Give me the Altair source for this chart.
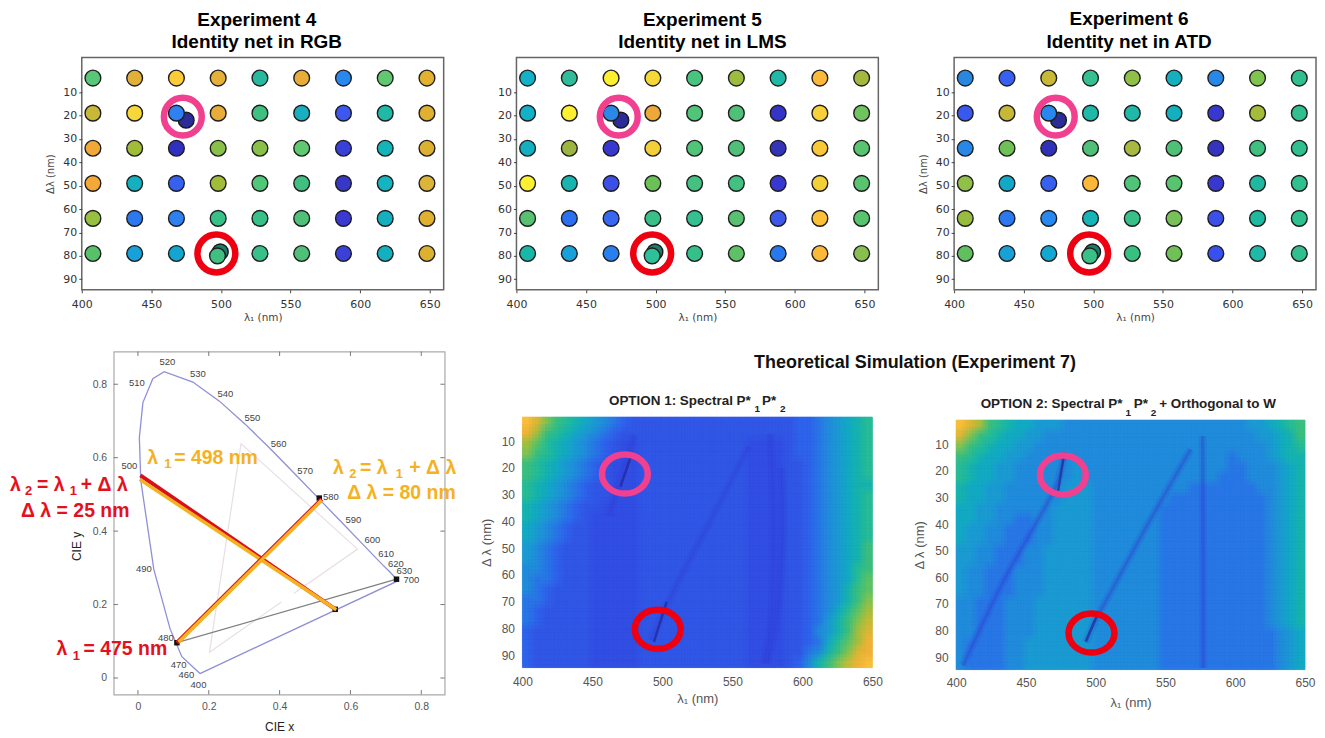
import altair as alt
import pandas as pd

SANS = "Liberation Sans"
DEJA = "DejaVu Sans"
NB = "\u00a0"

# ---------- Experiments 4-6 ----------
lam_cols = [408, 438, 468, 498, 528, 558, 588, 618, 648]
dl_rows = [4, 19, 34, 49, 64, 79]

exp4 = [
    ["#58c878", "#e0b038", "#fccc38", "#e4b038", "#28b8a0", "#e8ac38", "#2888f0", "#60c870", "#e4b030"],
    ["#c8b838", "#f8d838", "#2f80f0", "#e8ac38", "#40c080", "#18b0c0", "#3c58f0", "#20b8a8", "#e0b030"],
    ["#f0a838", "#a0bc38", "#3030c0", "#88c048", "#88c048", "#60c870", "#3840d8", "#14b4b8", "#dcb030"],
    ["#f4a838", "#14b0c0", "#3860f0", "#a0bc38", "#50c878", "#40c080", "#3838c8", "#14b4c0", "#dcb438"],
    ["#98c040", "#2c78f0", "#2c80f0", "#38c088", "#38c088", "#50c078", "#3a3ad0", "#14b0c0", "#e0b030"],
    ["#58c068", "#18a0d8", "#14a4d0", "#40c080", "#38c088", "#50c078", "#3a40d8", "#14b0c0", "#dcb030"],
]
exp5 = [
    ["#14b0c8", "#30bc98", "#fcf030", "#f4d838", "#48c480", "#9cbc40", "#20b8a8", "#fcb838", "#a4b840"],
    ["#14b0c8", "#fcf030", "#2a88e8", "#eca838", "#50c478", "#50c078", "#3434c8", "#f8d038", "#70c460"],
    ["#14b0c0", "#9cb440", "#3838d0", "#f4d038", "#50c478", "#50c078", "#3434b8", "#f8c838", "#58c470"],
    ["#fcf030", "#18b4b0", "#3c50e8", "#6cc058", "#44c080", "#44c080", "#3838d0", "#f4d038", "#58c470"],
    ["#58c070", "#2c70f0", "#3868f0", "#38c088", "#34c090", "#58c070", "#3c58e8", "#fcc038", "#58c470"],
    ["#18b8a8", "#18a0d8", "#2880f0", "#30c098", "#34c088", "#60c068", "#2878f0", "#fcb838", "#88c050"],
]
exp6 = [
    ["#2888e0", "#3860f0", "#c8b838", "#34c090", "#90c048", "#14b0c0", "#2888e8", "#80c450", "#30c090"],
    ["#3858f0", "#c8b838", "#2888f0", "#20b8a8", "#20b8a8", "#14b0c0", "#3838d0", "#a4bc38", "#30c090"],
    ["#2888e8", "#70c058", "#3030b8", "#50c078", "#a8b840", "#50c078", "#3434c0", "#40c080", "#30c090"],
    ["#90c048", "#14a8c8", "#3860f0", "#fcb838", "#50c478", "#58c470", "#3838d0", "#20b8a0", "#30c090"],
    ["#98bc40", "#2c78f0", "#2888f0", "#14b4b8", "#38c088", "#78c058", "#3c50e8", "#20b8a0", "#30c090"],
    ["#60c060", "#18a0d8", "#14a8d0", "#38c088", "#38c080", "#70c058", "#3850f0", "#20b8a8", "#30c090"],
]
under_lam = [475, 499.5]
under_dl = [22, 78.3]
under_col = ["#2c2c98", "#207a68"]
red_dot = (497.5, 80)

pink_col = "#f0408f"
red_col = "#ee0010"

xticks = [400, 450, 500, 550, 600, 650]
yticks = [10, 20, 30, 40, 50, 60, 70, 80, 90]


def exp_panel(grid, title, tdx, ytitle, pink, red, title_off=5):
    rows = []
    for r, dl in enumerate(dl_rows):
        for c, lam in enumerate(lam_cols):
            x, y = lam, dl
            if lam == 498 and dl == 79:
                x, y = red_dot
            rows.append({"x": x, "y": y, "c": grid[r][c]})
    df = pd.DataFrame(rows)
    xs = alt.Scale(domain=[400, 660], nice=False, zero=False)
    ys = alt.Scale(domain=[-4.8, 94.5], reverse=True, nice=False, zero=False)
    X = alt.X("x:Q", scale=xs, axis=alt.Axis(values=xticks, title="λ₁ (nm)", grid=False, labelFont=DEJA,
              labelFontSize=11, labelColor="#333", titleFont=DEJA, titleFontSize=10.5, titleFontWeight="normal",
              titleColor="#444", tickSize=3, tickColor="#444", domain=False, labelPadding=6, titlePadding=3,
              labelFlush=False))
    Y = alt.Y("y:Q", scale=ys, axis=alt.Axis(values=yticks, title=ytitle, grid=False, labelFont=DEJA,
              labelFontSize=11, labelColor="#333", titleFont=DEJA, titleFontSize=10, titleFontWeight="normal",
              titleColor="#444", tickSize=3, tickColor="#444", domain=False, labelPadding=2, titlePadding=7,
              labelFlush=False))
    under = alt.Chart(pd.DataFrame({"x": under_lam, "y": under_dl, "c": under_col})).mark_point(
        filled=True, shape="circle", size=250, stroke="#1a1a1a", strokeWidth=1.4, opacity=1
    ).encode(x=X, y=Y, fill=alt.Fill("c:N", scale=None))
    dots = alt.Chart(df).mark_point(
        filled=True, shape="circle", size=250, stroke="#1e1e1e", strokeWidth=1.4, opacity=1
    ).encode(x=X, y=Y, fill=alt.Fill("c:N", scale=None))
    rings = alt.Chart(pd.DataFrame({"x": [pink[0], red[0]], "y": [pink[1], red[1]], "c": [pink_col, red_col]})).mark_point(
        shape="circle", size=1444, strokeWidth=6.5, filled=False, opacity=1
    ).encode(x=X, y=Y, stroke=alt.Stroke("c:N", scale=None))
    return alt.layer(under, dots, rings).properties(
        width=363, height=233,
        title=alt.TitleParams(text=title, font=SANS, fontSize=19, fontWeight="bold", color="#000",
                              lineHeight=23, offset=title_off, dx=tdx, anchor="middle"),
        view=alt.ViewConfig(stroke="#666", strokeWidth=1.5),
    )


# ---------- CIE diagram ----------
locus_x = [.175, .124, .091, .045, .008, .004, .014, .042, .074, .155, .23, .302, .373, .444, .512, .575, .627, .665, .691, .708, .735, .175]
locus_y = [.012, .058, .133, .295, .538, .655, .75, .815, .834, .806, .754, .692, .625, .555, .487, .424, .372, .334, .308, .292, .265, .012]
gamut_x = [.44, .62, .291, .202, .405]
gamut_y = [.23, .351, .638, .07, .207]
grey_x = [.11, .73]
grey_y = [.096, .269]
sq_x = [.11, .73, .512, .557]
sq_y = [.096, .269, .49, .187]
red_x1 = [.007, .556]
red_y1 = [.552, .188]
org_x1 = [.005, .56]
org_y1 = [.541, .186]
red_x2 = [.11, .519]
red_y2 = [.096, .487]
org_x2 = [.115, .519]
org_y2 = [.098, .484]
cie_ticks = [0, .2, .4, .6, .8]
cie_xlim = [-.0685, .866]
cie_ylim = [-.045, .889]
wl_text = ["520", "530", "540", "550", "560", "570", "580", "590", "600", "610", "620", "630", "700", "510", "500", "490", "480", "470", "460", "400"]
wl_x = [.083, .169, .247, .323, .397, .472, .545, .608, .662, .701, .728, .752, .772, -.003, -.024, .017, .079, .115, .137, .171]
wl_y = [.860, .828, .773, .708, .637, .564, .494, .429, .376, .337, .310, .290, .266, .802, .578, .298, .110, .036, .008, -.018]
org_col = "#f5b120"
red_txt = "#e6101c"
ann_text = ["Δ λ = 25 nm", "Δ λ = 80 nm"]
ann_x = [-.177, .744]
ann_y = [.455, .505]
ann_col = [red_txt, org_col]
annl_text = [f"λ{NB*3}={NB}498 nm", f"λ{NB*3}={NB}475 nm", f"λ{NB*3}={NB}λ{NB*3}+{NB}Δ{NB}λ", f"λ{NB*3}={NB}λ{NB*4}+{NB}Δ{NB}λ"]
annl_x = [.026, -.23, -.361, .551]
annl_y = [.600, .078, .525, .573]
annl_col = [org_col, red_txt, red_txt, org_col]
sub_text = ["1", "1", "2", "1", "2", "1"]
sub_x = [.0845, -.1737, -.3087, -.182, .6066, .738]
sub_y = [.584, .0597, .5095, .5095, .5566, .5566]
sub_col = [org_col, red_txt, red_txt, red_txt, org_col, org_col]

cx = alt.Scale(domain=cie_xlim, nice=False, zero=False)
cy = alt.Scale(domain=cie_ylim, nice=False, zero=False)
CX = alt.X("x:Q", scale=cx, axis=alt.Axis(values=cie_ticks, format=".1~f", title="CIE x", grid=False, tickSize=0,
           labelFont=SANS, labelFontSize=10.5, labelColor="#555", titleFont=SANS, titleFontSize=12, titleFontWeight="normal",
           titleColor="#222", domain=False, labelPadding=7, titlePadding=10, labelFlush=False))
CY = alt.Y("y:Q", scale=cy, axis=alt.Axis(values=cie_ticks, format=".1~f", title="CIE y", grid=False, tickSize=0,
           labelFont=SANS, labelFontSize=10.5, labelColor="#555", titleFont=SANS, titleFontSize=12, titleFontWeight="normal",
           titleColor="#222", domain=False, labelPadding=7, titlePadding=9, titleY=195, labelFlush=False))


def cline(xs, ys, color, width):
    df = pd.DataFrame({"x": xs, "y": ys, "i": range(len(xs))})
    return alt.Chart(df).mark_line(color=color, strokeWidth=width).encode(x=CX, y=CY, order="i:Q")


# small inward ticks of the box
tick_seg = []
for t in cie_ticks:
    tick_seg.append({"x": t, "x2": t, "y": cie_ylim[0], "y2": cie_ylim[0] + .012})
    tick_seg.append({"x": t, "x2": t, "y": cie_ylim[1], "y2": cie_ylim[1] - .012})
    tick_seg.append({"x": cie_xlim[0], "x2": cie_xlim[0] + .012, "y": t, "y2": t})
    tick_seg.append({"x": cie_xlim[1], "x2": cie_xlim[1] - .012, "y": t, "y2": t})
tick_layer = alt.Chart(pd.DataFrame(tick_seg)).mark_rule(color="#777", strokeWidth=1).encode(
    x=CX, x2="x2:Q", y=CY, y2="y2:Q")
cie_sq = alt.Chart(pd.DataFrame({"x": sq_x, "y": sq_y})).mark_square(size=30, color="#111", opacity=1).encode(x=CX, y=CY)
wl_layer = alt.Chart(pd.DataFrame({"x": wl_x, "y": wl_y, "t": wl_text})).mark_text(
    font=SANS, fontSize=9.5, color="#444").encode(x=CX, y=CY, text="t:N")
ann_layer = alt.Chart(pd.DataFrame({"x": ann_x, "y": ann_y, "t": ann_text, "c": ann_col})).mark_text(
    font=SANS, fontSize=19.5, fontWeight="bold").encode(x=CX, y=CY, text="t:N", color=alt.Color("c:N", scale=None))
annl_layer = alt.Chart(pd.DataFrame({"x": annl_x, "y": annl_y, "t": annl_text, "c": annl_col})).mark_text(
    font=SANS, fontSize=19.5, fontWeight="bold", align="left").encode(x=CX, y=CY, text="t:N", color=alt.Color("c:N", scale=None))
sub_layer = alt.Chart(pd.DataFrame({"x": sub_x, "y": sub_y, "t": sub_text, "c": sub_col})).mark_text(
    font=SANS, fontSize=13, fontWeight="bold").encode(x=CX, y=CY, text="t:N", color=alt.Color("c:N", scale=None))
cie = alt.layer(
    tick_layer,
    cline(gamut_x, gamut_y, "#e8dfe4", 1.2),
    cline(locus_x, locus_y, "#8f8fd8", 1.3),
    cline(grey_x, grey_y, "#808080", 1.3),
    cie_sq,
    cline(red_x1, red_y1, "#d8101c", 4),
    cline(org_x1, org_y1, org_col, 3.5),
    cline(red_x2, red_y2, "#d8101c", 4),
    cline(org_x2, org_y2, org_col, 3.5),
    wl_layer, ann_layer, annl_layer, sub_layer,
).properties(width=332, height=344, view=alt.ViewConfig(stroke="#aaa", strokeWidth=1.2))

# ---------- Simulations ----------
level_keys = list("0123456789abcdefgh")
level_cols = ["#2f3fc8", "#3450e4", "#3358e8", "#2f64ec", "#2a78e8", "#228cdc", "#1c9cd4", "#14aac4", "#18b4b0",
              "#28bc98", "#3cc080", "#5cc468", "#80c454", "#a4c040", "#c4bc38", "#dcb838", "#f0b438", "#f8c03c"]

opt1_rows = [
    "hfca98765432" "2222222222222222" "33456789",
    "gda987654322" "2222222222222222" "33456789",
    "db9876543211" "2222222222211112" "33456789",
    "ca9876543211" "2222222222211112" "33456789",
    "a98765432111" "2222222222211112" "23456789",
    "a98765432111" "2222222222211112" "23456789",
    "987654322111" "2222222222211112" "23456788",
    "987654322111" "2222222222211112" "23456789",
    "876543221111" "2222222222211112" "23456789",
    "876543211111" "2222222222211112" "23456789",
    "765432211111" "2222222222211112" "23456789",
    "765432211111" "2222222222211112" "23456789",
    "654322211111" "2222222222211112" "2345678a",
    "654322211111" "2222222222211112" "2345678a",
    "554322211111" "2222222222211112" "2345679a",
    "544322211111" "2222222222211112" "2345679b",
    "543222211111" "2222222222211112" "234568ab",
    "443222211111" "2222222222211112" "234568ac",
    "432222211111" "2222222222211112" "234579bd",
    "432222211111" "2222222222211112" "23468ace",
    "322222211111" "2222222222211112" "23568adf",
    "322222211111" "2222222222211112" "23479bdg",
    "322222211111" "2222222222211112" "2458acfg",
    "322222211111" "2222222222211112" "358acegh",
]
opt2_rows = [
    "hfda98776665" "5555555555555555" "5566789a",
    "fca987766555" "5555555555555555" "5556678a",
    "ca9877665555" "5555555555555555" "55556789",
    "a98776655555" "5555555555555555" "45556788",
    "987766555555" "6555555555555555" "44555678",
    "987766555555" "6555555555555554" "44555678",
    "877665555556" "6655555555554444" "44455678",
    "877665555556" "6655555555444444" "44445678",
    "776655555566" "6655555554444444" "44445678",
    "776655445566" "6655555554444444" "44445678",
    "766554445566" "6655555554444444" "44445678",
    "766554445566" "6655555554444444" "44445678",
    "665544455666" "6655555554444444" "44445678",
    "665544455666" "6655555554444444" "44445678",
    "655444555666" "6655555554444444" "44445678",
    "655444555666" "6655555554444444" "44445678",
    "655444555666" "6655555554444444" "44445678",
    "554445556666" "6655555554444444" "44445678",
    "554445556666" "6655555554444444" "44445678",
    "554445556666" "6655555554444444" "44445678",
    "554445556666" "6655555554444444" "44444567",
    "544445566666" "6655555554444444" "44444567",
    "544445566666" "6655555554444444" "44444567",
    "544445566666" "6655555554444444" "44444567",
]

opt1_ridges = {
    "a": ([480, 474, 468, 462], [8, 17, 27, 38]),
    "b": ([561.6, 533, 509.3, 497.4, 491.5], [12, 41, 64.5, 78, 84.4]),
    "c": ([577, 579.4, 578.2, 572.3], [7.4, 36, 73, 93]),
    "d": ([585, 586, 582, 575], [20, 45, 75, 93]),
}
opt1_core = {
    "a": ([478, 470], [15, 27]),
    "b": ([503, 494], [70, 85]),
}
opt2_ridges = {
    "a": ([405, 432.4, 456.2, 470.5, 475.8, 477.7], [93, 63, 40.7, 27, 18.2, 13]),
    "b": ([568, 542, 513.4, 499, 493], [12, 35.7, 63, 77, 84.4]),
    "c": ([576.6, 577, 577], [7, 60, 94]),
}
opt2_core = {
    "a": ([477, 473], [15, 28]),
    "b": ([502, 493], [73, 84]),
}
ring_shape = "M-1,0A1,0.85,0,1,1,1,0A1,0.85,0,1,1,-1,0Z"
blur_steps = [(0, 0), (-1, 0), (1, 0), (0, -1), (0, 1), (-1, -1), (1, 1), (-1, 1), (1, -1)]


def ridges_df(d):
    rows = []
    for k, (xs, ys) in d.items():
        for i, (x, y) in enumerate(zip(xs, ys)):
            rows.append({"x": x, "y": y, "k": k, "i": i})
    return pd.DataFrame(rows)


def heat_panel(rows, ridges, core, w_total, h_total, top, title_txt, title_lam, title_dl, subs, pink, red,
               lab_pad, ttl_pad, mid_op, mid_w, extra=None):
    ncol, nrow = len(rows[0]), len(rows)
    xlo, xhi = 400.0, 650.0
    ylo, yhi = 1.0, 94.6
    dx = (xhi - xlo) / ncol
    dy = (yhi - ylo) / nrow
    xs = alt.Scale(domain=[400, 650], nice=False, zero=False)
    ys = alt.Scale(domain=[1, 94.6], range=[top, h_total], nice=False, zero=False)
    X = alt.X("x:Q", scale=xs, axis=alt.Axis(values=xticks, title="λ₁ (nm)", grid=False, tickSize=0, domain=False,
              labelFont=SANS, labelFontSize=12, labelColor="#555", labelPadding=lab_pad, titleFont=SANS, titleFontSize=13,
              titleFontWeight="normal", titleColor="#555", titlePadding=ttl_pad, labelFlush=False))
    Y = alt.Y("y:Q", scale=ys, axis=alt.Axis(values=yticks, title="Δ λ (nm)", grid=False, tickSize=0, domain=False,
              labelFont=SANS, labelFontSize=12, labelColor="#555", labelPadding=8, titleFont=SANS, titleFontSize=13,
              titleFontWeight="normal", titleColor="#555", titlePadding=8, labelFlush=False))
    levels = alt.Scale(domain=level_keys, range=level_cols)
    layers = []
    for k, (ox, oy) in enumerate(blur_steps):
        cells = []
        for r, row in enumerate(rows):
            for c, ch in enumerate(row):
                x0 = max(xlo, xlo + (c + ox / 3) * dx)
                x1 = min(xhi, xlo + (c + 1 + ox / 3) * dx)
                y0 = max(ylo, ylo + (r + oy / 3) * dy)
                y1 = min(yhi, ylo + (r + 1 + oy / 3) * dy)
                cells.append({"x": x0, "x2": x1, "y": y0, "y2": y1, "v": ch})
        df = pd.DataFrame(cells)
        enc = dict(x=X, x2="x2:Q", y=Y, y2="y2:Q", fill=alt.Fill("v:N", scale=levels, legend=None))
        if k == 0:
            enc["stroke"] = alt.Stroke("v:N", scale=levels, legend=None)
            layers.append(alt.Chart(df).mark_rect(strokeWidth=0.7, opacity=1).encode(**enc))
        else:
            layers.append(alt.Chart(df).mark_rect(strokeWidth=0, opacity=1 / (k + 1)).encode(**enc))
    wide = alt.Chart(ridges_df(ridges)).mark_line(color="#3038d0", strokeWidth=8, opacity=0.15, interpolate="cardinal").encode(
        x=X, y=Y, detail="k:N", order="i:Q")
    mid = alt.Chart(ridges_df(ridges)).mark_line(color="#3038d0", strokeWidth=mid_w, opacity=mid_op, interpolate="cardinal").encode(
        x=X, y=Y, detail="k:N", order="i:Q")
    thin = alt.Chart(ridges_df(core)).mark_line(color="#20208c", strokeWidth=2.5, opacity=0.6).encode(
        x=X, y=Y, detail="k:N", order="i:Q")
    rings = alt.Chart(pd.DataFrame({"x": [pink[0], red[0]], "y": [pink[1], red[1]], "c": [pink_col, red_col]})).mark_point(
        shape=ring_shape, size=2116, strokeWidth=6.5, filled=False, opacity=1
    ).encode(x=X, y=Y, stroke=alt.Stroke("c:N", scale=None))
    ttl = alt.Chart(pd.DataFrame({"x": [title_lam], "y": [title_dl], "t": [title_txt]})).mark_text(
        font=SANS, fontSize=13.5, fontWeight="bold", color="#222", align="left").encode(x=X, y=Y, text="t:N")
    ttl_sub = alt.Chart(pd.DataFrame({"x": subs[0], "y": subs[1], "t": subs[2]})).mark_text(
        font=SANS, fontSize=10, fontWeight="bold", color="#222").encode(x=X, y=Y, text="t:N")
    layers += [wide, mid, thin, rings, ttl, ttl_sub]
    if extra is not None:
        layers.append(extra(X, Y))
    return alt.layer(*layers).resolve_scale(fill="independent", stroke="independent").properties(
        width=w_total, height=h_total, view=alt.ViewConfig(stroke=None))


sim_title = ["Theoretical Simulation (Experiment 7)"]
sim_lam = [680.5]
sim_dl = [-19.25]


def sim_layer(X, Y):
    return alt.Chart(pd.DataFrame({"x": sim_lam, "y": sim_dl, "t": sim_title})).mark_text(
        font=SANS, fontSize=18, fontWeight="bold", color="#111").encode(x=X, y=Y, text="t:N")


def spacer(w):
    return alt.Chart(pd.DataFrame({"x": [0]})).mark_text(text="", opacity=0).encode(
        x=alt.value(0)).properties(width=w, height=10, view=alt.ViewConfig(stroke=None))


a = exp_panel(exp4, ["Experiment 4", "Identity net in RGB"], -6, "Δλ (nm)", (472.6, 20.5), (496.7, 79))
b = exp_panel(exp5, ["Experiment 5", "Identity net in LMS"], 5, "", (473.5, 20.5), (497.5, 79))
c = exp_panel(exp6, ["Experiment 6", "Identity net in ATD"], -6, "Δλ (nm)", (473, 20.5), (497, 79), title_off=5.5)
e = heat_panel(opt1_rows, opt1_ridges, opt1_core, 351, 317, 65.7,
               f"OPTION 1: Spectral P*{NB*3}P*", 461.8, -4.85, ([567.8, 586], [-1.85, -1.85], ["1", "2"]),
               (473.2, 22.3), (496.7, 80.3), 9, 5, 0.2, 2, sim_layer)
f = heat_panel(opt2_rows, opt2_ridges, opt2_core, 350, 319, 68.7,
               f"OPTION 2: Spectral P*{NB*3}P*{NB*3}+ Orthogonal to W", 417.6, -5.1, ([523.3, 541.4], [-1.5, -1.5], ["1", "2"]),
               (476.5, 21.6), (497, 80.9), 8, 8, 0.3, 3)

row1 = alt.hconcat(spacer(1.5), a, spacer(73), b, spacer(75.7), c, spacing=0, bounds="flush")
row2 = alt.hconcat(spacer(34), cie, spacer(78), e, spacer(84), f, spacing=0, bounds="flush")
chart = alt.vconcat(row1, row2, spacing=25).properties(
    padding={"left": 1, "top": -0.5, "right": 0, "bottom": 0}, background="white").configure_view(strokeWidth=0)
chart.save("out.html", embed_options={"renderer": "svg", "actions": False})
